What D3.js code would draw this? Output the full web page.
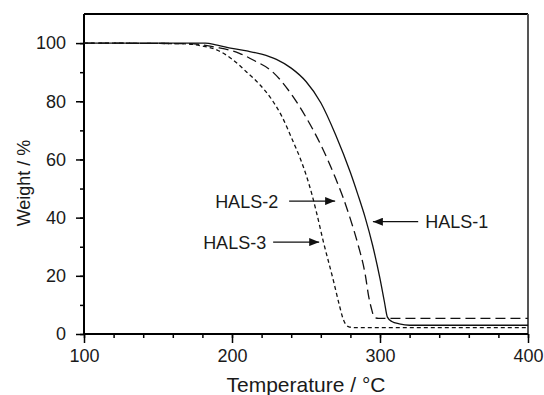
<!DOCTYPE html>
<html>
<head>
<meta charset="utf-8">
<script src="https://cdn.jsdelivr.net/npm/d3@7"></script>
<style>
  body { margin: 0; background: #fff; }
  text { font-family: "Liberation Sans", Arial, sans-serif; fill: #1a1a1a; }
</style>
</head>
<body>
<script>
var width = 544,
    height = 395;

// TGA curves: [temperature, weight %]
var hals1 = [[100,100],[182,100],[190,99.3],[200,98.2],[210,97.3],[220,96.2],[230,94.4],[240,91.4],
             [250,86.8],[260,79.5],[270,68.5],[280,55.5],[285,48],[290,40],[295,30.5],[300,19],
             [303,11],[305,5.8],[308,4.3],[313,3.5],[320,3.0],[400,3.0]];
var hals2 = [[100,100],[170,99.8],[190,98.5],[205,96.5],[215,94],[227,90.3],[240,82.5],[250,74.5],
             [260,65],[270,53.5],[275,47],[280,39.5],[285,31],[290,20.5],[292.5,12.5],[294.5,8.2],
             [296,5.8],[299,5.4],[400,5.4]];
var hals3 = [[100,100],[165,99.8],[180,99],[190,97.6],[200,94.5],[210,90],[219,85.6],[227,80.5],
             [234,74.5],[241,66.5],[246,60.5],[250.5,54],[254,48],[257,42],[261.8,31.6],[268.4,18.6],
             [272.5,10],[275,5.3],[277,3.2],[279.5,2.4],[283,2.2],[400,2.2]];

var xTicks = [100, 200, 300, 400];
var yTicks = [0, 20, 40, 60, 80, 100];

// annotation: label, text x, arrow tail, arrow tip (data coords)
var labels = ["HALS-1", "HALS-2", "HALS-3"];
var labelX = [330.6, 188.6, 180.5];
var labelY = [38.6, 45.7, 31.6];
var arrowTail = [325.8, 238.6, 227.8];
var arrowTip = [295.2, 269.7, 258.9];

var margin = {top: 14, right: 16, bottom: 61, left: 84};

var x = d3.scaleLinear().domain([100, 400]).range([margin.left, width - margin.right]);
var y = d3.scaleLinear().domain([0, 110]).range([height - margin.bottom, margin.top]);

var svg = d3.select("body").append("svg")
    .attr("width", width)
    .attr("height", height);

svg.append("defs").append("marker")
    .attr("id", "head")
    .attr("viewBox", "0 0 10 8")
    .attr("refX", 10).attr("refY", 4)
    .attr("markerWidth", 10).attr("markerHeight", 8)
    .attr("markerUnits", "userSpaceOnUse")
    .attr("orient", "auto")
  .append("path")
    .attr("d", "M0,0L10,4L0,8Z")
    .attr("fill", "#111");

// minor ticks
svg.append("g")
    .attr("transform", "translate(0," + y(0) + ")")
    .call(d3.axisBottom(x).tickValues(d3.range(100, 401, 20)).tickSize(4).tickFormat(""))
    .call(function(g) { g.select(".domain").remove(); g.selectAll("line").attr("stroke-width", 1.5); });
svg.append("g")
    .attr("transform", "translate(" + x(100) + ",0)")
    .call(d3.axisLeft(y).tickValues(d3.range(0, 101, 10)).tickSize(4).tickFormat(""))
    .call(function(g) { g.select(".domain").remove(); g.selectAll("line").attr("stroke-width", 1.5); });

// major ticks
var xAxis = svg.append("g")
    .attr("transform", "translate(0," + y(0) + ")")
    .call(d3.axisBottom(x).tickValues(xTicks).tickSize(9).tickPadding(6));
xAxis.select(".domain").remove();
xAxis.selectAll("line").attr("stroke-width", 1.5);
xAxis.selectAll("text").style("font-size", "18px").attr("fill", "#1a1a1a");

var yAxis = svg.append("g")
    .attr("transform", "translate(" + x(100) + ",0)")
    .call(d3.axisLeft(y).tickValues(yTicks).tickSize(8).tickPadding(10));
yAxis.select(".domain").remove();
yAxis.selectAll("line").attr("stroke-width", 1.5);
yAxis.selectAll("text").style("font-size", "18px").attr("fill", "#1a1a1a");

// frame
svg.append("line").attr("x1", x(100)).attr("x2", x(400)).attr("y1", y(110)).attr("y2", y(110))
    .attr("stroke", "#000").attr("stroke-width", 2);
svg.append("line").attr("x1", x(400)).attr("x2", x(400)).attr("y1", y(110)).attr("y2", y(0))
    .attr("stroke", "#555").attr("stroke-width", 2);
svg.append("line").attr("x1", x(100)).attr("x2", x(400)).attr("y1", y(0)).attr("y2", y(0))
    .attr("stroke", "#000").attr("stroke-width", 2);
svg.append("line").attr("x1", x(100)).attr("x2", x(100)).attr("y1", y(110)).attr("y2", y(0))
    .attr("stroke", "#000").attr("stroke-width", 2);

var line = d3.line()
    .x(function(d) { return x(d[0]); })
    .y(function(d) { return y(d[1]); })
    .curve(d3.curveMonotoneX);

var series = [hals1, hals2, hals3];
var dashes = [null, "10,5", "4,3"];

svg.selectAll(".curve")
    .data(series)
  .enter().append("path")
    .attr("class", "curve")
    .attr("d", line)
    .attr("fill", "none")
    .attr("stroke", "#111")
    .attr("stroke-width", 1.3)
    .attr("stroke-dasharray", function(d, i) { return dashes[i]; });

// annotations
labels.forEach(function(l, i) {
  svg.append("line")
      .attr("x1", x(arrowTail[i])).attr("x2", x(arrowTip[i]))
      .attr("y1", y(labelY[i])).attr("y2", y(labelY[i]))
      .attr("stroke", "#111").attr("stroke-width", 1.3)
      .attr("marker-end", "url(#head)");
  svg.append("text")
      .attr("x", x(labelX[i]))
      .attr("y", y(labelY[i]))
      .attr("dy", "0.36em")
      .style("font-size", "18px")
      .text(l);
});

svg.append("text")
    .attr("x", (x(100) + x(400)) / 2)
    .attr("y", 392)
    .attr("text-anchor", "middle")
    .style("font-size", "21px")
    .text("Temperature / \u00b0C");

svg.append("text")
    .attr("transform", "translate(30," + 183 + ") rotate(-90)")
    .attr("text-anchor", "middle")
    .style("font-size", "18px")
    .text("Weight / %");
</script>
</body>
</html>
